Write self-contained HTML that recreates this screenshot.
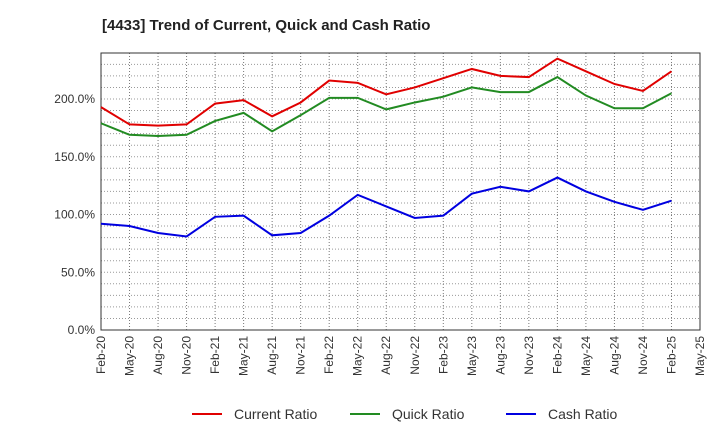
<!DOCTYPE html>
<html><head><meta charset="utf-8"><style>
body{margin:0;background:#fff;font-family:"Liberation Sans",sans-serif;}
svg text{font-family:"Liberation Sans",sans-serif;}
</style></head><body>
<svg id="chart" width="720" height="440" xmlns="http://www.w3.org/2000/svg">
<text x="102" y="30" font-size="15" font-weight="bold" fill="#222">[4433]  Trend of Current, Quick and Cash Ratio</text>
<g id="grid"></g><g id="axes"></g><g id="series"></g><g id="legend"></g>
</svg>
<script>
const xLabels=["Feb-20","May-20","Aug-20","Nov-20","Feb-21","May-21","Aug-21","Nov-21","Feb-22","May-22","Aug-22","Nov-22","Feb-23","May-23","Aug-23","Nov-23","Feb-24","May-24","Aug-24","Nov-24","Feb-25","May-25"];
const yTicks=[0,50,100,150,200];
const currentRatio=[193,178,177,178,196,199,185,197,216,214,204,210,218,226,220,219,235,224,213,207,224];
const quickRatio=[179,169,168,169,181,188,172,186,201,201,191,197,202,210,206,206,219,203,192,192,205];
const cashRatio=[92,90,84,81,98,99,82,84,99,117,107,97,99,118,124,120,132,120,111,104,112];
const NS="http://www.w3.org/2000/svg";
const L=101,R=700,T=53,B=330,yMax=240;
const xs=i=>L+i*(R-L)/(xLabels.length-1);
const ys=v=>B-v*(B-99)/200;
function mk(tag,attrs,parent){const e=document.createElementNS(NS,tag);for(const k in attrs)e.setAttribute(k,attrs[k]);document.getElementById(parent).appendChild(e);return e;}
const frame=mk("rect",{x:L,y:T,width:R-L,height:B-T,fill:"none",stroke:"#333"},"axes");


xLabels.forEach((lab,i)=>{
  const x=xs(i);
  const g=mk("line",{x1:x,x2:x,y1:T,y2:B,stroke:"#777","stroke-dasharray":"1,2"},"grid");
  
  
  const t=mk("text",{x:0,y:0,"font-size":"12",fill:"#333","text-anchor":"end",transform:`translate(${x+4},${B+6}) rotate(-90)`},"axes");
  t.textContent=lab;
  
  
});
for(let v=10;v<yMax;v+=10){
  const g=mk("line",{x1:L,x2:R,y1:ys(v),y2:ys(v),stroke:"#999","stroke-dasharray":"1,2"},"grid");
  
  
}
yTicks.forEach(v=>{
  const t=mk("text",{x:L-6,y:ys(v)+4,"font-size":"12",fill:"#333","text-anchor":"end"},"axes");
  t.textContent=v.toFixed(1)+"%";
  
  
});
const series=[["current-ratio",currentRatio,"#e00000","Current Ratio"],["quick-ratio",quickRatio,"#228b22","Quick Ratio"],["cash-ratio",cashRatio,"#0000e0","Cash Ratio"]];
series.forEach(([n,d,c])=>{
  const p=mk("polyline",{points:d.map((v,i)=>xs(i)+","+ys(v)).join(" "),fill:"none",stroke:c,"stroke-width":"2"},"series");
  
  
});
const lx=[192,350,506];
series.forEach(([n,d,c,lab],i)=>{
  const l=mk("line",{x1:lx[i],x2:lx[i]+30,y1:414,y2:414,stroke:c,"stroke-width":"2"},"legend");
  
  
  const t=mk("text",{x:lx[i]+42,y:419,"font-size":"14",fill:"#333"},"legend");
  t.textContent=lab;
  
  
});
</script>
</body></html>
